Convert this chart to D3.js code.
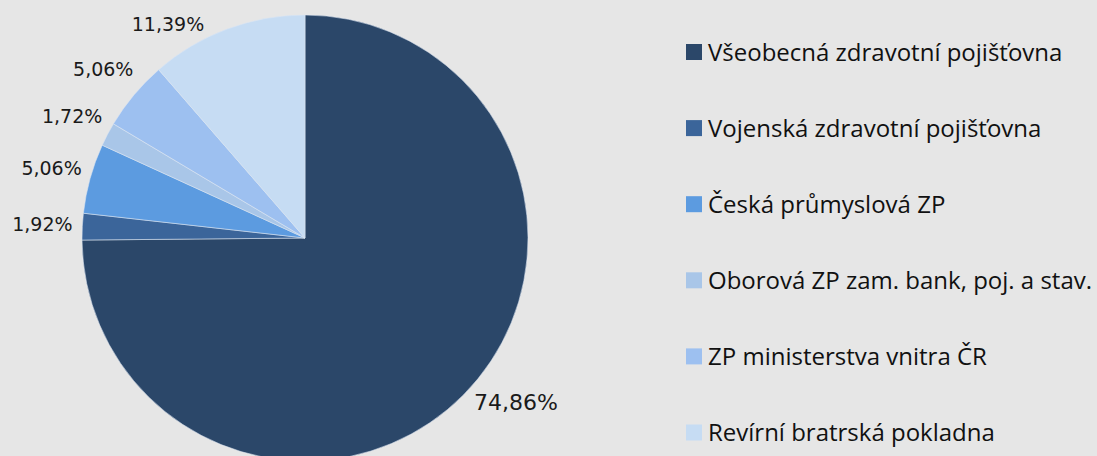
<!DOCTYPE html>
<html>
<head>
<meta charset="utf-8">
<script src="https://cdn.jsdelivr.net/npm/d3@7"></script>
<style>
    html, body { margin: 0; padding: 0; background: #e6e6e6; }
    .chart-container { width: 1097px; height: 456px; overflow: hidden; }
    .slice-label { font-family: "DejaVu Sans", Verdana, sans-serif; fill: #1a1a1a; }
    .legend-text { font-family: "Open Sans", Lato, sans-serif; fill: #111; }
</style>
</head>
<body>
<div class="chart-container"></div>
<script>
// Chart data
const categories = [
    'Všeobecná zdravotní pojišťovna',
    'Vojenská zdravotní pojišťovna',
    'Česká průmyslová ZP',
    'Oborová ZP zam. bank, poj. a stav.',
    'ZP ministerstva vnitra ČR',
    'Revírní bratrská pokladna'
];
const shares = [74.86, 1.92, 5.06, 1.72, 5.06, 11.39];
const sliceColors = ['#2b4769', '#3b659a', '#5c9be0', '#a9c6e8', '#9dc0f0', '#c6dcf3'];

function createPieChart() {
    d3.select('.chart-container').html('');

    const containerWidth = 1097;
    const containerHeight = 456;

    // Pie geometry
    const cx = 305;
    const cy = 238;
    const radius = 223;
    const labelRadius = radius + 40;
    // vertical room for labels (relative to centre)
    const labelTop = 24 - cy;
    const labelBottom = 402 - cy;

    const data = categories.map((name, i) => ({ name: name, value: shares[i] }));

    const czech = d3.formatLocale({ decimal: ',', thousands: ' ', grouping: [3], currency: ['', ' Kč'] });
    const fmt = czech.format('.2f');

    const color = d3.scaleOrdinal()
        .domain(categories)
        .range(sliceColors);

    const svg = d3.select('.chart-container')
        .append('svg')
        .attr('width', containerWidth)
        .attr('height', containerHeight);

    svg.append('rect')
        .attr('width', containerWidth)
        .attr('height', containerHeight)
        .attr('fill', '#e6e6e6');

    const pie = d3.pie()
        .sort(null)
        .value(d => d.value);

    const arc = d3.arc()
        .innerRadius(0)
        .outerRadius(radius);

    const labelArc = d3.arc()
        .innerRadius(labelRadius)
        .outerRadius(labelRadius);

    const arcs = pie(data);

    const g = svg.append('g')
        .attr('transform', `translate(${cx},${cy})`);

    // Slices
    g.selectAll('.slice')
        .data(arcs)
        .enter()
        .append('path')
        .attr('class', 'slice')
        .attr('d', arc)
        .attr('fill', d => color(d.data.name))
        .attr('stroke', 'rgba(220,230,242,0.7)')
        .attr('stroke-width', 0.8);

    // Percentage labels outside the slices
    const labels = g.selectAll('.slice-label')
        .data(arcs)
        .enter()
        .append('text')
        .attr('class', 'slice-label')
        .attr('text-anchor', 'middle')
        .attr('dy', '0.36em')
        .style('font-size', d => d.data.value > 50 ? '22px' : '19px')
        .text(d => fmt(d.data.value) + '%');

    // place each label on the label circle; if it leaves the plot area,
    // push it back in and slide it so its inner corner sits just off the pie
    labels.attr('transform', function (d) {
        let [x, y] = labelArc.centroid(d);
        const yc = Math.max(labelTop, Math.min(labelBottom, y));
        if (yc !== y) {
            const w = this.getComputedTextLength();
            const h = parseFloat(this.style.fontSize);
            const sx = Math.sign(x), sy = Math.sign(yc);
            const yInner = yc - sy * h / 2;
            const rc = radius + 5;
            x = sx * (Math.sqrt(rc * rc - yInner * yInner) + w / 2);
            y = yc;
        }
        return `translate(${x},${y})`;
    });

    // Legend
    const legendY = d3.scalePoint()
        .domain(categories)
        .range([52, 432.5]);

    const legend = svg.append('g')
        .attr('class', 'legend')
        .attr('transform', 'translate(686,0)');

    const item = legend.selectAll('.legend-item')
        .data(categories)
        .enter()
        .append('g')
        .attr('class', 'legend-item')
        .attr('transform', d => `translate(0,${legendY(d)})`);

    item.append('rect')
        .attr('x', 0)
        .attr('y', -8)
        .attr('width', 16)
        .attr('height', 16)
        .attr('fill', d => color(d));

    item.append('text')
        .attr('class', 'legend-text')
        .attr('x', 22)
        .attr('y', 0)
        .attr('dy', '0.36em')
        .style('font-size', '24px')
        .text(d => d);
}

createPieChart();
</script>
</body>
</html>
